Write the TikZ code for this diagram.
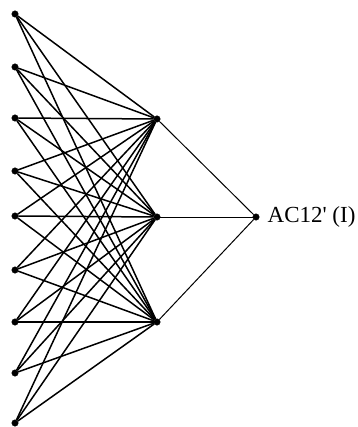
\documentclass[tikz,border=0pt]{standalone}
\usepackage{fontspec}
\setmainfont{Liberation Serif}
\usetikzlibrary{positioning}

\begin{document}
\begin{tikzpicture}[
  x=1pt, y=-1pt,
  neuron/.style={circle, fill=black, draw=black, inner sep=0pt, minimum size=6.5pt},
  caption/.style={inner sep=0pt, anchor=west, font=\fontsize{23}{26}\selectfont},
  link/.style={line width=1.5pt},
  outlink/.style={line width=1pt}
]
  \useasboundingbox (0,0) rectangle (357,427);

  % input layer
  \node (in1) [neuron] at (15,14) {};
  \node (in2) [neuron] at (15,67) {};
  \node (in3) [neuron] at (15,118) {};
  \node (in4) [neuron] at (15,171) {};
  \node (in5) [neuron] at (15,216) {};
  \node (in6) [neuron] at (15,270) {};
  \node (in7) [neuron] at (15,322) {};
  \node (in8) [neuron] at (15,373) {};
  \node (in9) [neuron] at (15,423) {};

  % hidden layer
  \node (hid1) [neuron] at (157,119) {};
  \node (hid2) [neuron] at (157,217) {};
  \node (hid3) [neuron] at (157,322) {};

  % output
  \node (out) [neuron] at (256,217) {};
  \node (lbl) [caption, right=8pt of out] {AC12\textquotesingle{} (I)};

  \foreach \i in {1,...,9}
    \foreach \h in {1,2,3}
      \draw [link] (in\i) -- (hid\h);

  \draw [outlink] (hid1) -- (out);
  \draw [outlink] (hid2) -- (out);
  \draw [outlink] (hid3) -- (out);
\end{tikzpicture}
\end{document}
